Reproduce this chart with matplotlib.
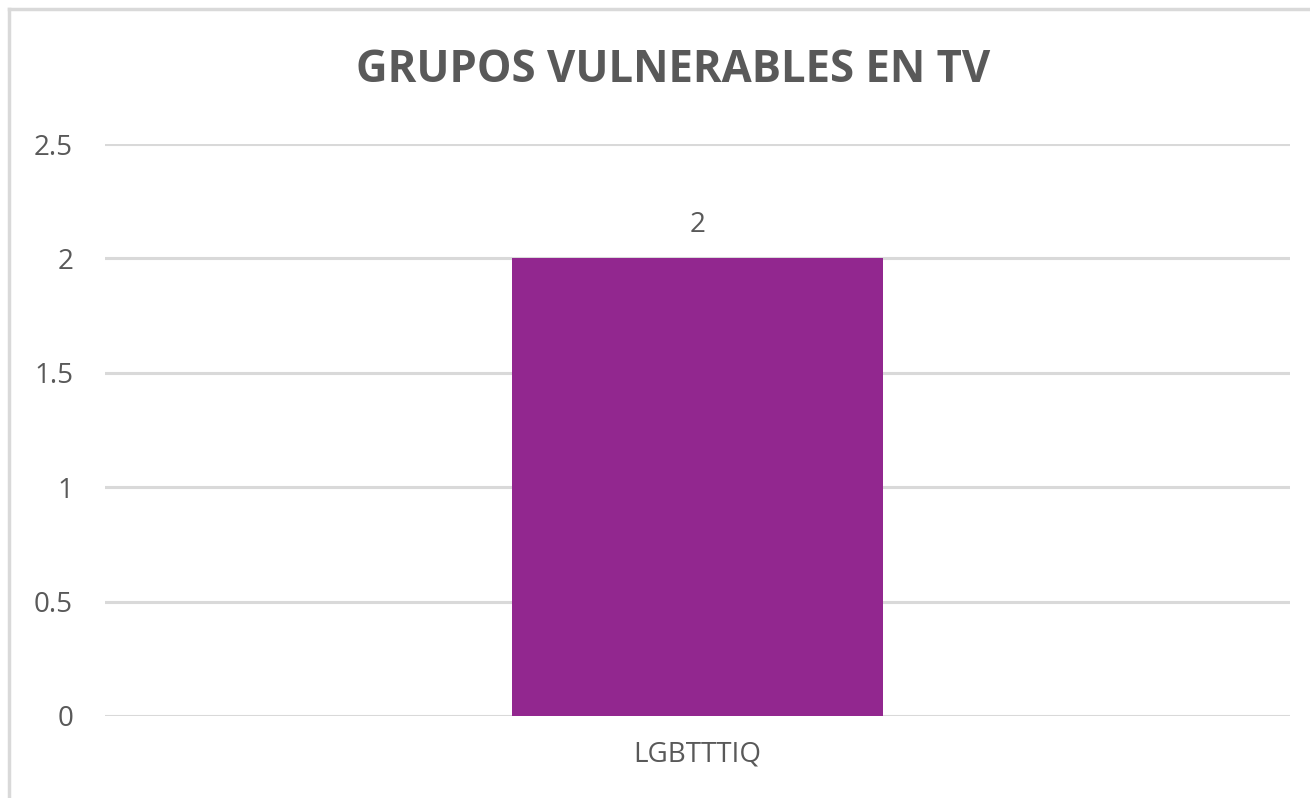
import matplotlib.pyplot as plt
from matplotlib.lines import Line2D

# chart data
categories = ['LGBTTTIQ']
values = [2]
y_ticks = [0, 0.5, 1, 1.5, 2, 2.5]
y_tick_labels = ['0', '0.5', '1', '1.5', '2', '2.5']

plt.rcParams['font.family'] = ['Open Sans', 'DejaVu Sans']

fig = plt.figure(figsize=(13.1, 7.98), dpi=100)
ax = fig.add_axes([0.0802, 0.1028, 0.9045, 0.7167])

bars = ax.bar(categories, values, width=0.313, color='#92278F', zorder=3)
ax.bar_label(bars, labels=[str(v) for v in values], padding=14,
             fontsize=20, color='#595959')

ax.set_xlim(-0.5, 0.5)
ax.set_ylim(0, 2.5)
ax.set_yticks(y_ticks)
ax.set_yticklabels(y_tick_labels)
ax.grid(axis='y', color='#d9d9d9', linewidth=2.2, zorder=0)
ax.tick_params(axis='y', length=0, pad=23, labelsize=20, labelcolor='#595959')
ax.tick_params(axis='x', length=0, pad=18, labelsize=20, labelcolor='#595959')
for s in ax.spines.values():
    s.set_visible(False)

fig.text(0.514, 0.912, 'GRUPOS VULNERABLES EN TV', ha='center', va='center',
         fontsize=31.4, fontweight='bold', color='#595959')

# outer chart frame (only left and top edges are visible in the crop)
fig.add_artist(Line2D([0.0065, 0.0065], [0.0, 0.9887], transform=fig.transFigure,
                      color='#d9d9d9', linewidth=2.5))
fig.add_artist(Line2D([0.0065, 1.0], [0.9887, 0.9887], transform=fig.transFigure,
                      color='#d9d9d9', linewidth=2.5))

fig.savefig('out.png', dpi=100)
